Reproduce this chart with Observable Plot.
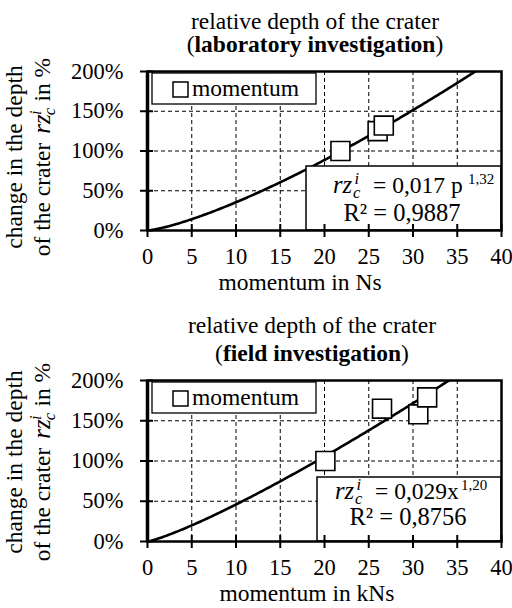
<!DOCTYPE html>
<html><head><meta charset="utf-8">
<script src="https://cdn.jsdelivr.net/npm/d3@7"></script>
<script src="https://cdn.jsdelivr.net/npm/@observablehq/plot@0.6"></script>
<style>html,body{margin:0;padding:0;background:#fff} svg{display:block}</style>
</head><body><div id="chart"></div>
<script>
const FONT = "'Liberation Serif','Times New Roman',serif";

// axis ticks
const xTicks = [0, 5, 10, 15, 20, 25, 30, 35, 40];
const yTicks = [0, 0.5, 1, 1.5, 2];
const gridXTicks = [5, 10, 15, 20, 25, 30, 35];
const gridYTicks = [0.5, 1, 1.5];

// laboratory investigation (momentum in Ns, relative depth change)
const labMomentum = [21.8, 26.0, 26.7];
const labDepth = [1.00, 1.25, 1.32];
const labCoef = 0.017, labExp = 1.32, labR2 = "0,9887";

// field investigation (momentum in kNs)
const fieldMomentum = [20.1, 26.5, 30.6, 31.6];
const fieldDepth = [1.00, 1.65, 1.58, 1.79];
const fieldCoef = 0.029, fieldExp = 1.20, fieldR2 = "0,8756";

// x positions at which the printed trend equation is evaluated
const fitX = d3.range(0, 40.001, 0.2);

const titleLine1 = "relative depth of the crater";
const legendLabel = "momentum";

function annotations(cfg) {
  return (index, scales, values, dims) => {
    const L = dims.marginLeft, T = dims.marginTop;
    const R = dims.width - dims.marginRight, B = dims.height - dims.marginBottom;
    const fs = 23.5;
    const g = d3.create("svg:g").attr("font-family", FONT).attr("fill", "black")
      .attr("font-size", fs).attr("text-anchor", "start");
    // title
    g.append("text").attr("x", cfg.titleX).attr("y", cfg.titleY[0]).attr("text-anchor", "middle").text(titleLine1);
    const t2 = g.append("text").attr("x", cfg.titleX).attr("y", cfg.titleY[1]).attr("text-anchor", "middle");
    t2.append("tspan").text("(");
    t2.append("tspan").attr("font-weight", "bold").text(cfg.bold);
    t2.append("tspan").text(")");
    // legend
    g.append("rect").attr("x", L + 5).attr("y", T + 2).attr("width", 164).attr("height", 31)
      .attr("fill", "white").attr("stroke", "black").attr("stroke-width", 1.3);
    g.append("rect").attr("x", L + 26).attr("y", T + 11).attr("width", 15).attr("height", 15)
      .attr("fill", "white").attr("stroke", "black").attr("stroke-width", 1.5);
    g.append("text").attr("x", L + 45).attr("y", T + 25).text(legendLabel);
    // equation box
    g.append("rect").attr("x", cfg.eqBox[0]).attr("y", cfg.eqBox[1]).attr("width", R - cfg.eqBox[0]).attr("height", B - cfg.eqBox[1])
      .attr("fill", "white").attr("stroke", "black").attr("stroke-width", 1.5);
    const [ex, ey] = cfg.eq1;
    const e1 = g.append("text").attr("x", ex).attr("y", ey).attr("font-size", 23.5);
    e1.append("tspan").attr("font-style", "italic").attr("font-size", 24.5).text("rz");
    e1.append("tspan").attr("x", ex + 20).attr("dy", 5).attr("font-style", "italic").attr("font-size", 16.5).text("c");
    e1.append("tspan").attr("x", ex + 21.5).attr("dy", -14).attr("font-style", "italic").attr("font-size", 16.5).text("i");
    e1.append("tspan").attr("x", ex + cfg.eqMidDx).attr("dy", 9).text(cfg.eqMid);
    e1.append("tspan").attr("x", ex + cfg.supDx).attr("dy", -9).attr("font-size", 15).text(cfg.expText);
    const e2 = g.append("text").attr("x", cfg.eq2[0]).attr("y", cfg.eq2[1]).attr("text-anchor", "middle").attr("font-size", 24.5);
    e2.text("R² = " + cfg.r2);
    // y label
    const cy = cfg.yLabelY;
    g.append("text").attr("transform", `translate(22,${cy}) rotate(-90)`).attr("text-anchor", "middle").text("change in the depth");
    const y2 = g.append("text").attr("transform", `translate(50,${cy}) rotate(-90)`).attr("text-anchor", "middle");
    y2.append("tspan").text("of the crater ");
    y2.append("tspan").attr("dx", 3).attr("font-style", "italic").attr("font-size", 25).text("rz");
    y2.append("tspan").attr("dx", -1).attr("dy", 5).attr("font-style", "italic").attr("font-size", 16.5).text("c");
    y2.append("tspan").attr("dx", -7).attr("dy", -14).attr("font-style", "italic").attr("font-size", 16.5).text("i");
    y2.append("tspan").attr("dy", 9).attr("dx", 3).text(" in %");
    // x label
    g.append("text").attr("x", cfg.xLabelX).attr("y", B + 60).attr("text-anchor", "middle").text(cfg.xLabel);
    return g.node();
  };
}

function chart(cfg) {
  const pts = cfg.xs.map((x, i) => ({x, y: cfg.ys[i]}));
  const fit = fitX.map(x => ({x, y: cfg.coef * Math.pow(x, cfg.exp)}));
  return Plot.plot({
    width: 512, height: 304,
    marginTop: cfg.mt, marginBottom: cfg.mb, marginLeft: 147, marginRight: 11,
    x: {domain: [0, 40]},
    y: {domain: [0, 2]},
    style: {fontFamily: FONT, fontSize: "22.5px", color: "black", background: "white", overflow: "visible"},
    marks: [
      Plot.gridX(gridXTicks, {stroke: "black", strokeOpacity: 1, strokeDasharray: "4,3", strokeWidth: 1}),
      Plot.gridY(gridYTicks, {stroke: "black", strokeOpacity: 1, strokeDasharray: "4,3", strokeWidth: 1}),
      Plot.line(fit, {x: "x", y: "y", stroke: "black", strokeWidth: 2.6, clip: true}),
      annotations(cfg),
      Plot.dot(pts, {x: "x", y: "y", symbol: "square", r: 10.7, fill: "white", stroke: "black", strokeWidth: 1.6}),
      Plot.frame({stroke: "black", strokeWidth: 2.5}),
      Plot.ruleX([0], {stroke: "black", strokeWidth: 3.5}),
      Plot.axisX({ticks: xTicks, tickSize: 7, tickPadding: 11, fontSize: 22.5, fontFamily: FONT, label: null, strokeWidth: 2}),
      Plot.axisX({ticks: xTicks, tickSize: -6, tickFormat: () => "", label: null, strokeWidth: 2}),
      Plot.axisY({ticks: yTicks, tickSize: 7, tickPadding: 17, fontSize: 22.5, fontFamily: FONT, tickFormat: d3.format(".0%"), label: null, strokeWidth: 2}),
      Plot.axisY({ticks: yTicks, tickSize: -6, tickFormat: () => "", label: null, strokeWidth: 2})
    ]
  });
}

const root = document.getElementById("chart");
root.append(chart({
  xs: labMomentum, ys: labDepth, coef: labCoef, exp: labExp, r2: labR2,
  mt: 71, mb: 74, bold: "laboratory investigation", titleX: 315, titleY: [29, 52],
  eqBox: [306, 166], eq1: [333, 193], eq2: [402, 221], eqMid: "= 0,017 p", eqMidDx: 40, supDx: 135, expText: "1,32",
  yLabelY: 157, xLabelX: 300, xLabel: "momentum in Ns"
}));
root.append(chart({
  xs: fieldMomentum, ys: fieldDepth, coef: fieldCoef, exp: fieldExp, r2: fieldR2,
  mt: 76, mb: 67, bold: "field investigation", titleX: 312, titleY: [29, 57],
  eqBox: [317, 173], eq1: [335, 195], eq2: [408, 221], eqMid: "= 0,029x", eqMidDx: 40, supDx: 126, expText: "1,20",
  yLabelY: 158, xLabelX: 307, xLabel: "momentum in kNs"
}));
</script></body></html>
